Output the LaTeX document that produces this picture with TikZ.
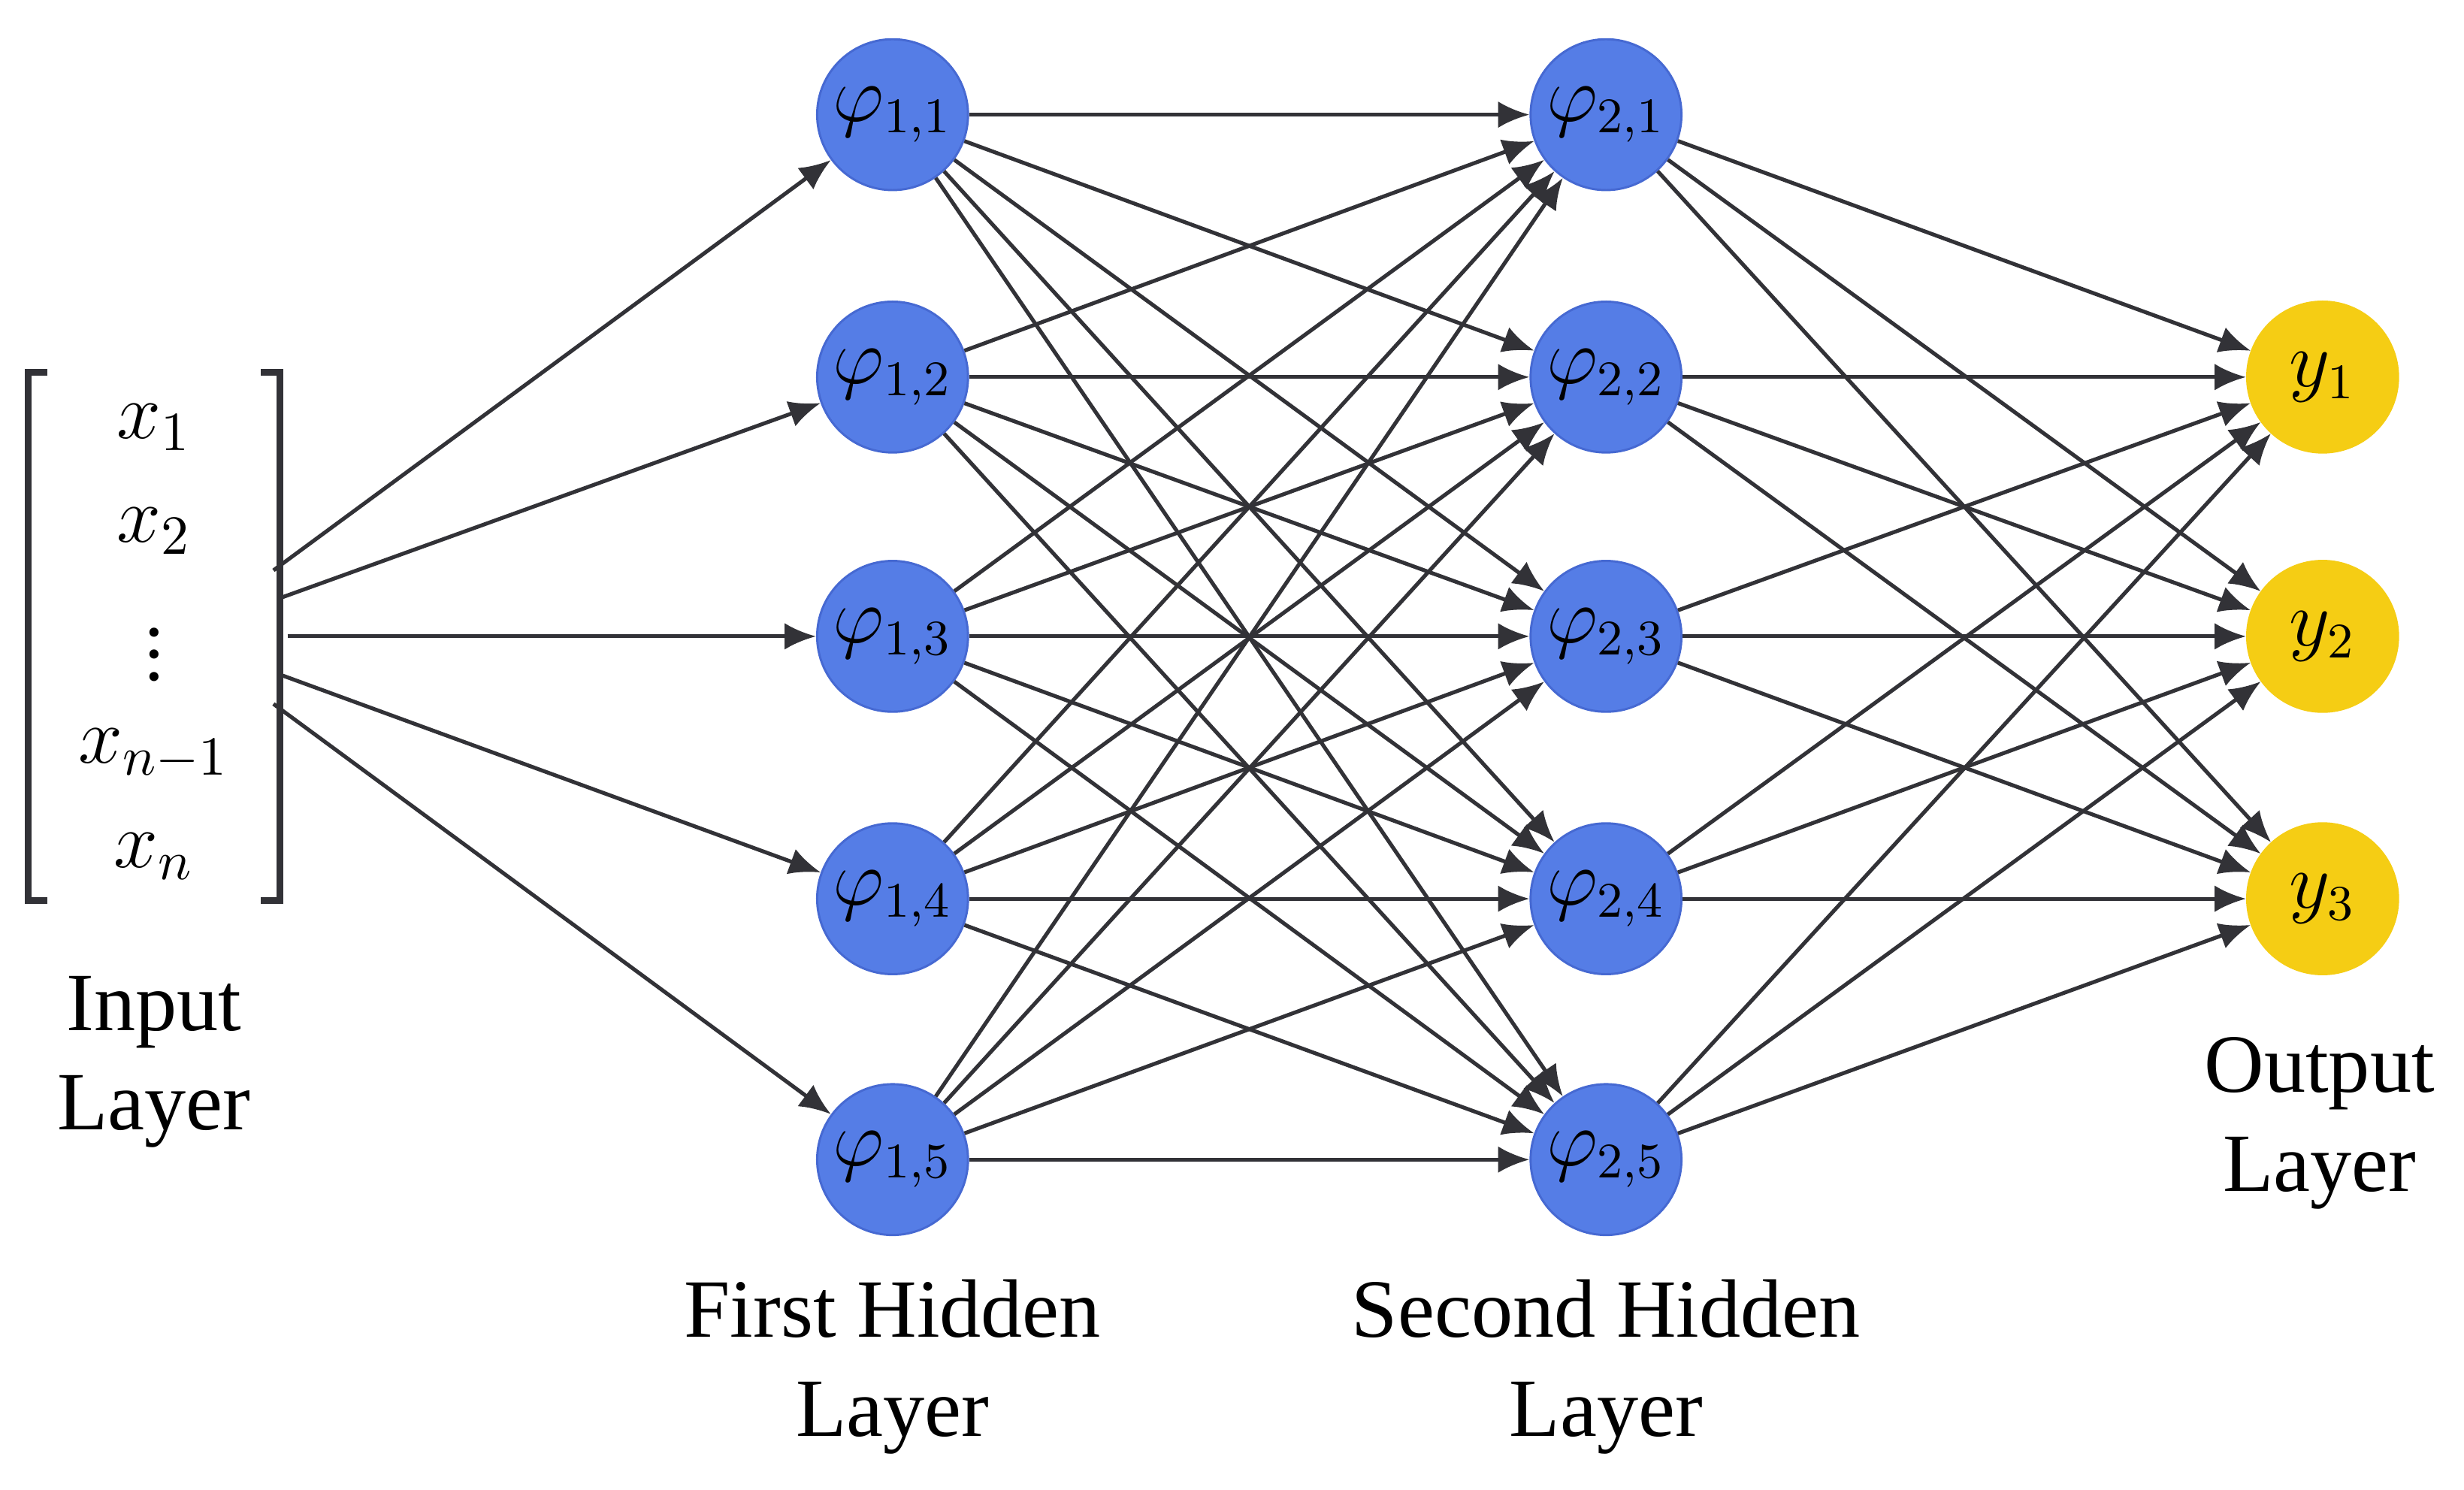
\documentclass[tikz,border=0pt]{standalone}
\usepackage{fontspec}
\setmainfont{Liberation Serif}
\usetikzlibrary{arrows.meta, positioning, calc}
\definecolor{nn_blue}{RGB}{85, 125, 230}
\definecolor{nn_edge}{RGB}{70, 105, 210}
\definecolor{nn_yellow}{RGB}{245, 205, 20}
\definecolor{nn_line}{RGB}{50, 50, 55}

\begin{document}
\begin{tikzpicture}[
    x=1cm, y=1cm,
    hid/.style={circle, draw=nn_edge, fill=nn_blue, minimum size=0.96cm,
                inner sep=0pt, font=\fontsize{13.5}{13.5}\selectfont},
    outn/.style={circle, draw=nn_yellow, fill=nn_yellow, minimum size=0.96cm,
                 inner sep=0pt, font=\fontsize{13.5}{13.5}\selectfont},
    vecx/.style={font=\fontsize{14}{14}\selectfont, inner sep=0pt},
    lbl/.style={font=\fontsize{15}{18}\selectfont, align=center},
    arr/.style={-{Latex[length=2mm, width=1.7mm]}, nn_line, line width=0.7pt},
  ]
  \useasboundingbox (0,0) rectangle (15.68,9.48);
  % hidden and output layers
  \foreach \i/\y in {1/8.75, 2/7.08, 3/5.43, 4/3.76, 5/2.10} {
    \node[hid] (h1\i) at (5.68,\y) {$\varphi_{1,\i}$};
    \node[hid] (h2\i) at (10.22,\y) {$\varphi_{2,\i}$};
  }
  \foreach \k/\y in {1/7.08, 2/5.43, 3/3.76}
    \node[outn] (o\k) at (14.78,\y) {$y_{\k}$};
  % input vector
  \node[vecx] (x1) at (0.98,6.76) {$x_1$};
  \node[vecx] (x2) at (0.98,6.10) {$x_2$};
  \node[vecx] (xd) at (0.98,5.42) {$\vdots$};
  \node[vecx] (xm) at (0.98,4.68) {$x_{n-1}$};
  \node[vecx] (xn) at (0.98,4.03) {$x_n$};
  \draw[nn_line, line width=1.2pt] (0.30,7.11) -- (0.18,7.11) -- (0.18,3.75) -- (0.30,3.75);
  \draw[nn_line, line width=1.2pt] (1.66,7.11) -- (1.78,7.11) -- (1.78,3.75) -- (1.66,3.75);
  \coordinate (s1) at (1.74,5.85);
  \coordinate (s2) at (1.80,5.68);
  \coordinate (s3) at (1.83,5.43);
  \coordinate (s4) at (1.80,5.18);
  \coordinate (s5) at (1.74,5.00);
  % labels
  \node[lbl] (lin) at (0.98,2.72) {Input\\Layer};
  \node[lbl] (lh1) at (5.68,0.78) {First Hidden\\Layer};
  \node[lbl] (lh2) at (10.22,0.78) {Second Hidden\\Layer};
  \node[lbl] (lout) at (14.76,2.33) {Output\\Layer};
  % connections
  \foreach \i in {1,...,5} {
    \draw[arr] (s\i) -- (h1\i);
    \foreach \j in {1,...,5}
      \draw[arr] (h1\i) -- (h2\j);
    \foreach \k in {1,2,3}
      \draw[arr] (h2\i) -- (o\k);
  }
\end{tikzpicture}
\end{document}
